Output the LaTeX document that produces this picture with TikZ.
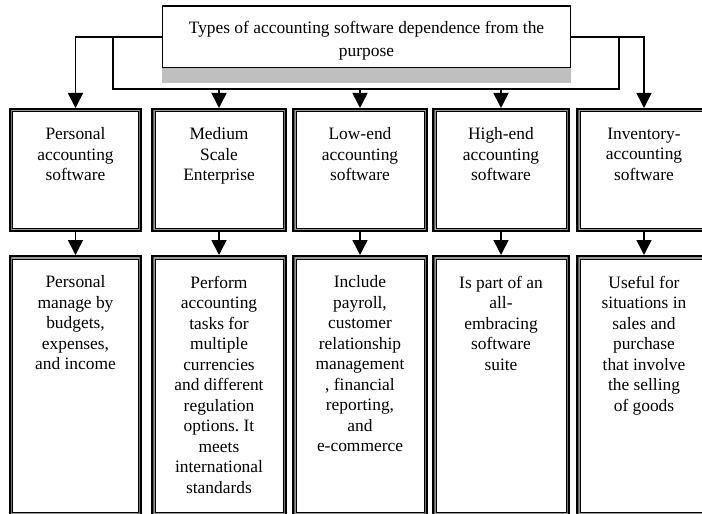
\documentclass[tikz,border=0pt]{standalone}
\usepackage{fontspec}
\setmainfont{Liberation Serif}
\usetikzlibrary{arrows.meta,positioning}
\tikzset{
  rimline/.style={line width=#1, line join=miter},
  kindbox/.style={preaction={draw, line width=5bp},
    path picture={
      \draw[white, rimline=6bp] (path picture bounding box.south west) rectangle (path picture bounding box.north east);
      \draw[rimline=4bp] (path picture bounding box.south west) rectangle (path picture bounding box.north east);
      \draw[gray!80, rimline=2bp] (path picture bounding box.south west) rectangle (path picture bounding box.north east);
    },
    outer sep=2.5bp, inner sep=0pt, minimum width=#1-5bp, minimum height=119bp},
  descbox/.style={kindbox=#1, minimum height=256bp},
  boxtext/.style={align=center, inner sep=0pt}
}
\begin{document}
\begin{tikzpicture}[x=1bp, y=-1bp, line width=1.6bp, >={Triangle[width=15bp,length=15bp]},
  font=\fontsize{17.4bp}{20.5bp}\selectfont\frenchspacing]
  \path[use as bounding box, clip] (0,0) rectangle (702,514);
  % title with its shadow
  \node[draw, line width=1.2bp, minimum width=407.8bp, minimum height=61.8bp, align=center,
    text height=39bp, text depth=0bp,
    font=\fontsize{17.4bp}{23bp}\selectfont] (title) at (366.5,37)
    {Types of accounting software dependence from the\\purpose};
  \fill[gray!50] (title.south west) rectangle ([yshift=-15bp]title.south east);
  % types
  \node[kindbox=133bp] (personal) at (75.5,170) {};
  \node[kindbox=136bp] (medium) at (219,170) {};
  \node[kindbox=136bp] (lowend) at (360,170) {};
  \node[kindbox=138bp] (highend) at (501,170) {};
  \node[kindbox=136bp] (inventory) at (644,170) {};
  \node[boxtext, below=19bp of personal.north] (personalT) {Personal\\accounting\\software};
  \node[boxtext, below=19bp of medium.north] (mediumT) {Medium\\Scale\\Enterprise};
  \node[boxtext, below=19bp of lowend.north] (lowendT) {Low-end\\accounting\\software};
  \node[boxtext, below=19bp of highend.north] (highendT) {High-end\\accounting\\software};
  \node[boxtext, below=19bp of inventory.north] (inventoryT) {Inventory-\\accounting\\software};
  % descriptions
  \node[descbox=133bp, below=23bp of personal] (personalD) {};
  \node[descbox=136bp, below=23bp of medium] (mediumD) {};
  \node[descbox=136bp, below=23bp of lowend] (lowendD) {};
  \node[descbox=138bp, below=23bp of highend] (highendD) {};
  \node[descbox=136bp, below=23bp of inventory] (inventoryD) {};
  \node[boxtext, below=20bp of personalD.north] (personalDT)
    {Personal\\manage by\\budgets,\\expenses,\\and income};
  \node[boxtext, below=20bp of mediumD.north] (mediumDT)
    {Perform\\accounting\\tasks for\\multiple\\currencies\\and different\\regulation\\options. It\\meets\\international\\standards};
  \node[boxtext, below=20bp of lowendD.north] (lowendDT)
    {Include\\payroll,\\customer\\relationship\\management\\, financial\\reporting,\\and\\e-commerce};
  \node[boxtext, below=20bp of highendD.north] (highendDT)
    {Is part of an\\all-\\embracing\\software\\suite};
  \node[boxtext, below=20bp of inventoryD.north] (inventoryDT)
    {Useful for\\situations in\\sales and\\purchase\\that involve\\the selling\\of goods};
  % connectors
  \coordinate (busL) at (113,89);
  \coordinate (busR) at (619,89);
  \draw[->] (title.west) -| (personal.north);
  \draw[->] (title.east) -| (inventory.north);
  \draw (busL |- title.west) -- (busL) -- (busR) -- (busR |- title.east);
  \draw[->] (medium.north |- busL) -- (medium.north);
  \draw[->] (lowend.north |- busL) -- (lowend.north);
  \draw[->] (highend.north |- busL) -- (highend.north);
  \draw[->] (personal.south) -- (personalD.north);
  \draw[->] (medium.south) -- (mediumD.north);
  \draw[->] (lowend.south) -- (lowendD.north);
  \draw[->] (highend.south) -- (highendD.north);
  \draw[->] (inventory.south) -- (inventoryD.north);
\end{tikzpicture}
\end{document}
